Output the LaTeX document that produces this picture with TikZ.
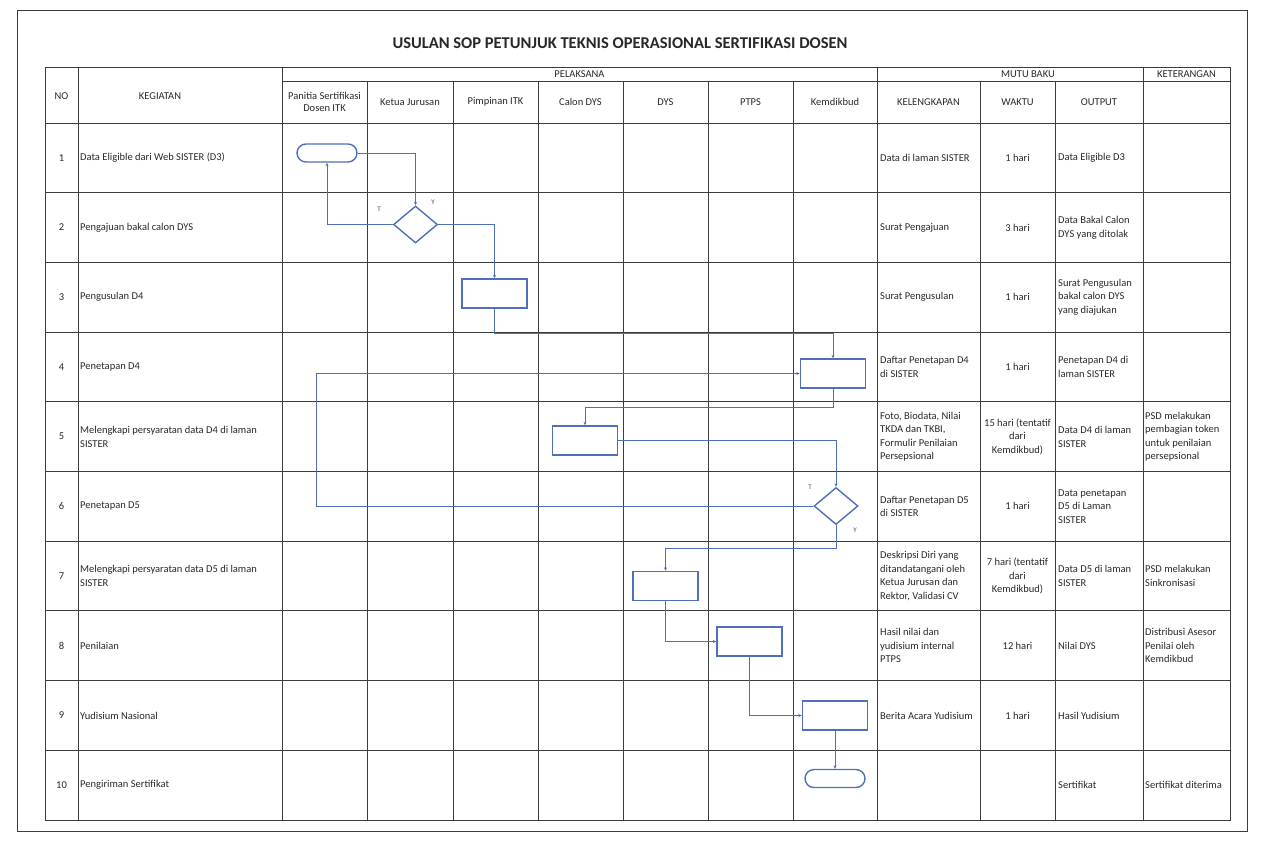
\documentclass[tikz,border=0pt]{standalone}
\usepackage{fontspec}
\setmainfont{Carlito}
\usetikzlibrary{arrows.meta,shapes.geometric}
\definecolor{flowblue}{RGB}{79,112,185}
\definecolor{gridgray}{RGB}{60,60,60}
\definecolor{inkgray}{RGB}{40,40,40}
\tikzset{
  gridline/.style={draw=gridgray, line width=0.9pt},
  flowline/.style={draw=flowblue, line width=0.9pt, -{Stealth[length=3.5pt,width=3pt]}},
  procbox/.style={draw=flowblue, line width=1.4pt, fill=white, minimum width=65pt, minimum height=29pt, inner sep=0pt},
  termbox/.style={draw=flowblue, line width=1.4pt, fill=white, rounded corners=9pt, minimum width=60pt, minimum height=18pt, inner sep=0pt},
  decbox/.style={draw=flowblue, line width=1.4pt, fill=white, diamond, minimum width=44pt, minimum height=37pt, inner sep=0pt},
  flowlabel/.style={text=gray!60!black, font=\fontsize{7}{8}\selectfont, inner sep=0pt},
  headtext/.style={text=inkgray, font=\fontsize{10.5}{12.5}\selectfont, align=center, inner sep=0pt},
  celltext/.style={text=inkgray, font=\fontsize{10.5}{13.5}\selectfont, align=left, anchor=west, inner sep=0pt},
  midtext/.style={text=inkgray, font=\fontsize{10.5}{13.5}\selectfont, align=center, inner sep=0pt},
}

\begin{document}
\begin{tikzpicture}[x=1pt,y=-1pt]
%%%%% START %%%%%
\useasboundingbox (0,0) rectangle (1261,841);
\draw[gridline, line width=0.8pt] (17,10) rectangle (1247,831);

\node[text=inkgray, font=\fontsize{16.5}{19}\selectfont\bfseries] (title) at (620,43) {USULAN SOP PETUNJUK TEKNIS OPERASIONAL SERTIFIKASI DOSEN};

%%%%% TABLE GRID %%%%%
\draw[gridline] (45,67) rectangle (1230,820);
\draw[gridline] (282,81) -- (1230,81);
\foreach \i in {0,...,9}
  \draw[gridline] (45,{123+69.7*\i}) -- (1230,{123+69.7*\i});
\foreach \x in {78,282,877,1143}
  \draw[gridline] (\x,67) -- (\x,820);
\foreach \x in {367,453,538,623,708,793,980,1055}
  \draw[gridline] (\x,81) -- (\x,820);

%%%%% HEADER %%%%%
\node[headtext] (hNo) at (61.5,96) {NO};
\node[headtext] (hKeg) at (160,96) {KEGIATAN};
\node[headtext] (hPel) at (579.5,74.5) {PELAKSANA};
\node[headtext] (hMutu) at (1028,74.5) {MUTU BAKU};
\node[headtext] (hKet) at (1186.5,74.5) {KETERANGAN};
\node[headtext] (hPanitia) at (324.5,102) {Panitia Sertifikasi\\Dosen ITK};
\node[headtext] (hKajur) at (410,102) {Ketua Jurusan};
\node[headtext] (hPimp) at (495.5,102) {Pimpinan ITK};
\node[headtext] (hCalon) at (580.5,102) {Calon DYS};
\node[headtext] (hDys) at (665.5,102) {DYS};
\node[headtext] (hPtps) at (750.5,102) {PTPS};
\node[headtext] (hKemd) at (835,102) {Kemdikbud};
\node[headtext] (hKel) at (928.5,102) {KELENGKAPAN};
\node[headtext] (hWak) at (1017.5,102) {WAKTU};
\node[headtext] (hOut) at (1099,102) {OUTPUT};

%%%%% ROWS %%%%%
\foreach \i in {1,...,10}
  \coordinate (r\i) at (0,{123+69.7*(\i-0.5)});
\coordinate (cNo) at (61.5,0);
\coordinate (cKeg) at (80,0);
\coordinate (cKel) at (880,0);
\coordinate (cWak) at (1017.5,0);
\coordinate (cOut) at (1058,0);
\coordinate (cKet) at (1145,0);

\foreach \i in {1,...,10}
  \node[midtext] (no\i) at (cNo |- r\i) {\i};

\node[celltext] (keg1) at (cKeg |- r1) {Data Eligible dari Web SISTER (D3)};
\node[celltext] (keg2) at (cKeg |- r2) {Pengajuan bakal calon DYS};
\node[celltext] (keg3) at (cKeg |- r3) {Pengusulan D4};
\node[celltext] (keg4) at (cKeg |- r4) {Penetapan D4};
\node[celltext] (keg5) at (cKeg |- r5) {Melengkapi persyaratan data D4 di laman\\SISTER};
\node[celltext] (keg6) at (cKeg |- r6) {Penetapan D5};
\node[celltext] (keg7) at (cKeg |- r7) {Melengkapi persyaratan data D5 di laman\\SISTER};
\node[celltext] (keg8) at (cKeg |- r8) {Penilaian};
\node[celltext] (keg9) at (cKeg |- r9) {Yudisium Nasional};
\node[celltext] (keg10) at (cKeg |- r10) {Pengiriman Sertifikat};

\node[celltext] (kel1) at (cKel |- r1) {Data di laman SISTER};
\node[celltext] (kel2) at (cKel |- r2) {Surat Pengajuan};
\node[celltext] (kel3) at (cKel |- r3) {Surat Pengusulan};
\node[celltext] (kel4) at (cKel |- r4) {Daftar Penetapan D4\\di SISTER};
\node[celltext] (kel5) at (cKel |- r5) {Foto, Biodata, Nilai\\TKDA dan TKBI,\\Formulir Penilaian\\Persepsional};
\node[celltext] (kel6) at (cKel |- r6) {Daftar Penetapan D5\\di SISTER};
\node[celltext] (kel7) at (cKel |- r7) {Deskripsi Diri yang\\ditandatangani oleh\\Ketua Jurusan dan\\Rektor, Validasi CV};
\node[celltext] (kel8) at (cKel |- r8) {Hasil nilai dan\\yudisium internal\\PTPS};
\node[celltext] (kel9) at (cKel |- r9) {Berita Acara Yudisium};

\node[midtext] (wak1) at (cWak |- r1) {1 hari};
\node[midtext] (wak2) at (cWak |- r2) {3 hari};
\node[midtext] (wak3) at (cWak |- r3) {1 hari};
\node[midtext] (wak4) at (cWak |- r4) {1 hari};
\node[midtext] (wak5) at (cWak |- r5) {15 hari (tentatif\\dari\\Kemdikbud)};
\node[midtext] (wak6) at (cWak |- r6) {1 hari};
\node[midtext] (wak7) at (cWak |- r7) {7 hari (tentatif\\dari\\Kemdikbud)};
\node[midtext] (wak8) at (cWak |- r8) {12 hari};
\node[midtext] (wak9) at (cWak |- r9) {1 hari};

\node[celltext] (out1) at (cOut |- r1) {Data Eligible D3};
\node[celltext] (out2) at (cOut |- r2) {Data Bakal Calon\\DYS yang ditolak};
\node[celltext] (out3) at (cOut |- r3) {Surat Pengusulan\\bakal calon DYS\\yang diajukan};
\node[celltext] (out4) at (cOut |- r4) {Penetapan D4 di\\laman SISTER};
\node[celltext] (out5) at (cOut |- r5) {Data D4 di laman\\SISTER};
\node[celltext] (out6) at (cOut |- r6) {Data penetapan\\D5 di Laman\\SISTER};
\node[celltext] (out7) at (cOut |- r7) {Data D5 di laman\\SISTER};
\node[celltext] (out8) at (cOut |- r8) {Nilai DYS};
\node[celltext] (out9) at (cOut |- r9) {Hasil Yudisium};
\node[celltext] (out10) at (cOut |- r10) {Sertifikat};

\node[celltext] (ket5) at (cKet |- r5) {PSD melakukan\\pembagian token\\untuk penilaian\\persepsional};
\node[celltext] (ket7) at (cKet |- r7) {PSD melakukan\\Sinkronisasi};
\node[celltext] (ket8) at (cKet |- r8) {Distribusi Asesor\\Penilai oleh\\Kemdikbud};
\node[celltext] (ket10) at (cKet |- r10) {Sertifikat diterima};

%%%%% FLOW %%%%%
\node[termbox] (mulai) at (327,153) {};
\node[decbox] (cekD3) at (415.5,224.5) {};
\node[procbox] (usulD4) at (494.5,293.5) {};
\node[procbox] (tetapD4) at (833,373.5) {};
\node[procbox] (lengkapD4) at (585,440.5) {};
\node[decbox] (cekD5) at (836,506) {};
\node[procbox] (lengkapD5) at (665.5,586) {};
\node[procbox] (nilaiDYS) at (749.5,641.5) {};
\node[procbox] (yudisium) at (835,715.5) {};
\node[termbox] (selesai) at (835,778.5) {};

\node[flowlabel] (tD3) at (379,209) {T};
\node[flowlabel] (yD3) at (433,202) {Y};
\node[flowlabel] (tD5) at (810,487) {T};
\node[flowlabel] (yD5) at (855,530) {Y};

\coordinate (kUsul) at (494.5,333);
\coordinate (kTetap) at (833,407);
\coordinate (kCek) at (836,548);
\coordinate (kBalik) at (316,373.5);

\draw[flowline] (mulai.east) -| (cekD3.north);
\draw[flowline] (cekD3.west) -| (mulai.south);
\draw[flowline] (cekD3.east) -| (usulD4.north);
\draw[flowline] (usulD4.south) -- (kUsul) -| (tetapD4.north);
\draw[flowline] (cekD5.west) -| (kBalik) -- (tetapD4.west);
\draw[flowline] (tetapD4.south) -- (kTetap) -| (lengkapD4.north);
\draw[flowline] (lengkapD4.east) -| (cekD5.north);
\draw[flowline] (cekD5.south) -- (kCek) -| (lengkapD5.north);
\draw[flowline] (lengkapD5.south) |- (nilaiDYS.west);
\draw[flowline] (nilaiDYS.south) |- (yudisium.west);
\draw[flowline] (yudisium.south) -- (selesai.north);
%%%%% END %%%%%
\end{tikzpicture}
\end{document}
